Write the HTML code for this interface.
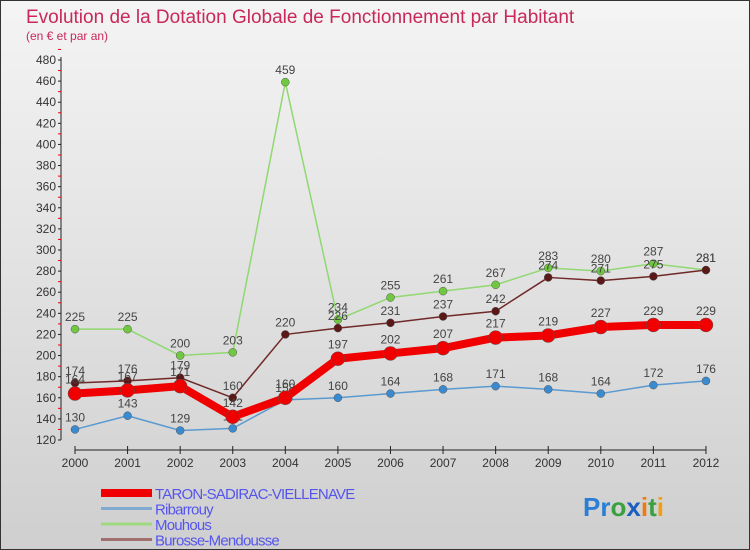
<!DOCTYPE html>
<html><head><meta charset="utf-8"><style>
body{margin:0;width:750px;height:550px;overflow:hidden;font-family:"Liberation Sans",sans-serif}
#wrap{position:relative;width:748px;height:548px;border:1px solid #333;background:linear-gradient(#f4f4f4,#cfcfcf)}
</style></head><body>
<div id="wrap">
<svg id="c" width="748" height="548" style="position:absolute;left:0;top:0">
<text x="25" y="22" font-size="19" fill="#c8285a">Evolution de la Dotation Globale de Fonctionnement par Habitant</text>
<text x="25" y="39" font-size="12" fill="#c8285a">(en € et par an)</text>
<g id="axes"></g><g id="series"></g><g id="legend"></g>
<text x="582" y="515" font-size="26" font-weight="bold"><tspan fill="#2a7fd4">Pr</tspan><tspan fill="#3aa040">o</tspan><tspan fill="#1a5fc0">x</tspan><tspan fill="#f07a10">i</tspan><tspan fill="#3aa040">t</tspan><tspan fill="#f0a010">i</tspan></text>
</svg>
</div>
<script>
const years=[2000,2001,2002,2003,2004,2005,2006,2007,2008,2009,2010,2011,2012];
const yTicks=[120,140,160,180,200,220,240,260,280,300,320,340,360,380,400,420,440,460,480];
const taron=[164,167,171,142,160,197,202,207,217,219,227,229,229];
const ribarrouy=[130,143,129,131,158,160,164,168,171,168,164,172,176];
const mouhous=[225,225,200,203,459,234,255,261,267,283,280,287,281];
const burosse=[174,176,179,160,220,226,231,237,242,274,271,275,281];
const NS="http://www.w3.org/2000/svg";
const X=i=>74+i*52.58, Y=v=>439-(v-120)*1.0556;
function mk(p,t,a){const e=document.createElementNS(NS,t);for(const k in a)e.setAttribute(k,a[k]);p.appendChild(e);return e;}
const ax=document.getElementById('axes');
let yl=mk(ax,'line',{x1:60,y1:Y(480)-3,x2:60,y2:Y(120),stroke:'#222'});


yTicks.forEach(v=>{
 mk(ax,'line',{x1:57,x2:60,y1:Y(v),y2:Y(v),stroke:'#222'});
 mk(ax,'line',{x1:57,x2:60,y1:Y(v+10),y2:Y(v+10),stroke:'#e00'});
 const t=mk(ax,'text',{x:55,y:Y(v)+4,'font-size':12,fill:'#333','text-anchor':'end'});t.textContent=v;
 
 
});
let xl=mk(ax,'line',{x1:X(0),y1:449,x2:X(12),y2:449,stroke:'#222'});


years.forEach((y,i)=>{
 mk(ax,'line',{x1:X(i),x2:X(i),y1:445,y2:453,stroke:'#222'});
 const t=mk(ax,'text',{x:X(i),y:466,'font-size':12,fill:'#333','text-anchor':'middle'});t.textContent=y;
 
 
});
const sg=document.getElementById('series');
function series(d,name,col,dot,w,r,off){
 const g=mk(sg,'g',{});
 
 
 mk(g,'polyline',{points:d.map((v,i)=>X(i)+','+Y(v)).join(' '),fill:'none',stroke:col,'stroke-width':w,'stroke-linejoin':'round'});
 d.forEach((v,i)=>{
  const c=mk(g,'circle',{cx:X(i),cy:Y(v),r:r,fill:dot,stroke:'#555','stroke-width':0.5});
  
  
  const t=mk(g,'text',{x:X(i),y:Y(v)-off,'font-size':12,fill:'#444','text-anchor':'middle'});t.textContent=v;
  
  
 });
}
series(ribarrouy,'ribarrouy','#5a9ad0','#3a8ad0',1.5,4,8);
series(mouhous,'mouhous','#90d870','#70c840',1.5,4,8);
series(burosse,'burosse','#702828','#5a1818',1.5,4,8);
series(taron,'taron','#f00000','#f00000',8,7,10);
const lg=document.getElementById('legend');
const names=['TARON-SADIRAC-VIELLENAVE','Ribarrouy','Mouhous','Burosse-Mendousse'];
const cols=['#f00000','#80aad0','#a0d880','#a07070'];
names.forEach((n,i)=>{
 const y=492+i*15.5;
 mk(lg,'line',{x1:100,x2:151,y1:y,y2:y,stroke:cols[i],'stroke-width':i?3:8});
 const t=mk(lg,'text',{x:154,y:y+6,'font-size':15,fill:'#5555ee','letter-spacing':'-0.8'});t.textContent=n;
 
 
});
</script>
</body></html>
